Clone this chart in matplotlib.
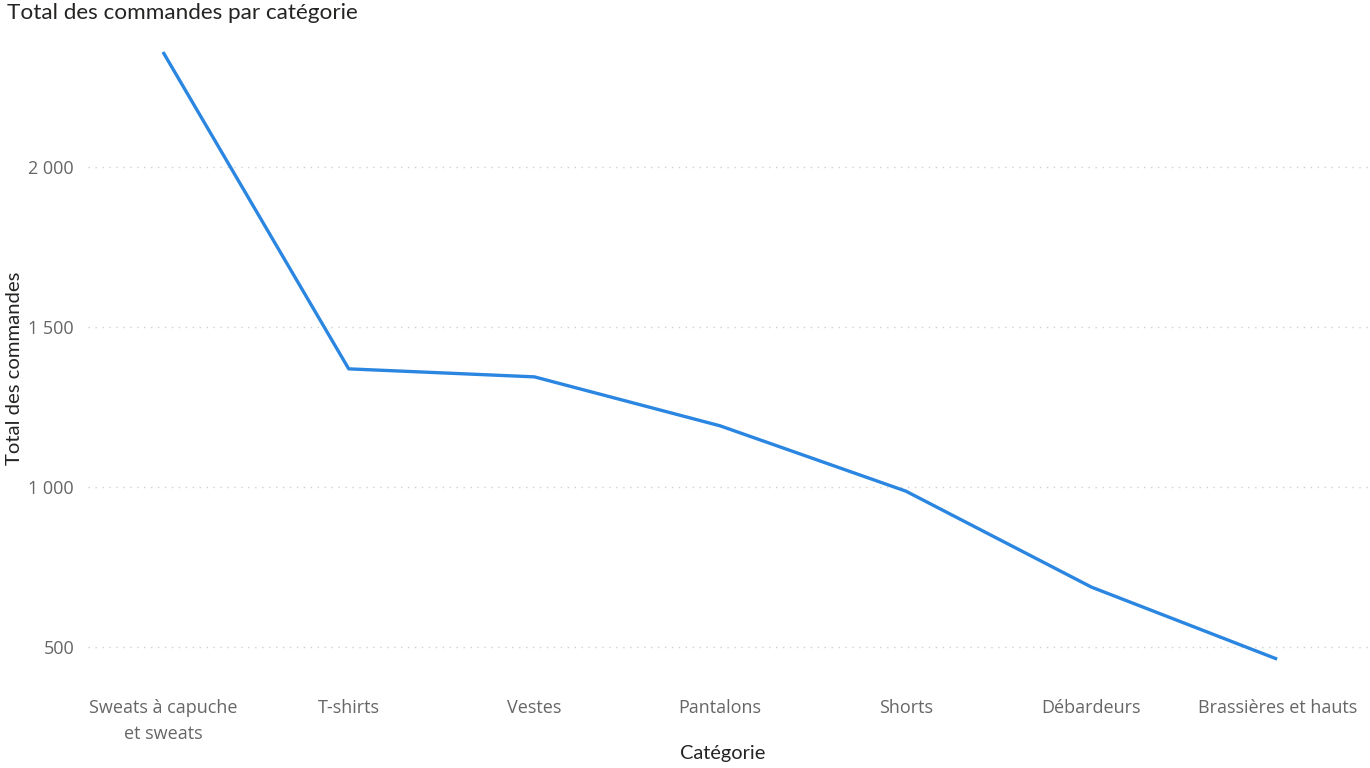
import matplotlib
matplotlib.use("Agg")
import matplotlib.pyplot as plt

categories = [
    "Sweats à capuche\net sweats",
    "T-shirts",
    "Vestes",
    "Pantalons",
    "Shorts",
    "Débardeurs",
    "Brassières et hauts",
]
orders = [2359, 1369, 1344, 1191, 987, 687, 462]
y_ticks = [500, 1000, 1500, 2000]
y_tick_labels = ["500", "1 000", "1 500", "2 000"]

fig = plt.figure(figsize=(13.7, 7.68), dpi=100)
ax = fig.add_axes([88 / 1370, 1 - 670 / 768, 1 - 88 / 1370, (670 - 45) / 768])

x = list(range(len(categories)))
ax.plot(x, orders, color="#2a86e0", linewidth=2.4, solid_capstyle="butt", zorder=3)

ax.set_xlim(-0.404, 6.5)
ax.set_ylim(428, 2381)
ax.set_xticks(x)
ax.set_xticklabels(categories, fontfamily="Open Sans", fontsize=13, color="#666666",
                   linespacing=1.55)
ax.set_yticks(y_ticks)
ax.set_yticklabels(y_tick_labels, fontfamily="Open Sans", fontsize=13, color="#666666")
ax.tick_params(axis="both", length=0)
ax.tick_params(axis="x", pad=21)
ax.tick_params(axis="y", pad=10)

ax.grid(axis="y", color="#d0d0d0", linestyle=(0, (1, 4)), linewidth=1)
ax.set_axisbelow(True)
for s in ax.spines.values():
    s.set_visible(False)

fig.text(7 / 1370, 1 - 13 / 768, "Total des commandes par catégorie",
         fontfamily="Lato", fontsize=16.2, color="#252423", va="center", ha="left")
fig.text(15 / 1370, 1 - 368 / 768, "Total des commandes", rotation=90,
         fontfamily="Lato", fontsize=14.6, color="#252423", va="center", ha="center")
fig.text(723 / 1370, 1 - 753 / 768, "Catégorie",
         fontfamily="Lato", fontsize=14.4, color="#252423", va="center", ha="center")

fig.savefig("out.png", dpi=100)
